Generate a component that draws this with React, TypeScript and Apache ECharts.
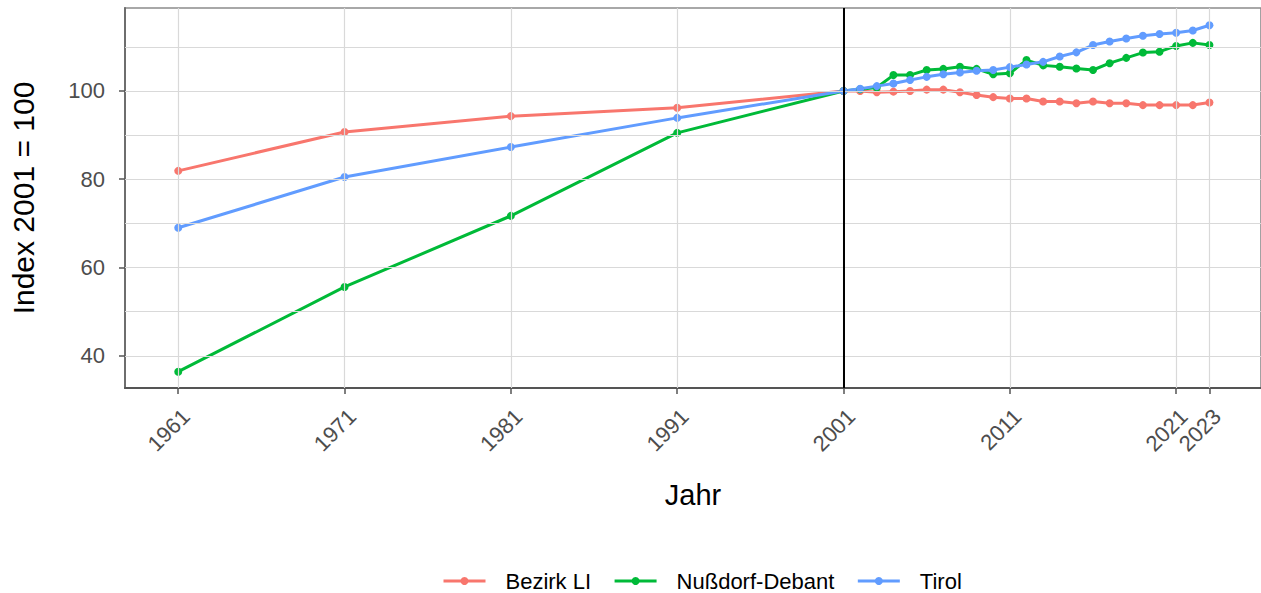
import React, { useEffect, useRef } from "react";
import * as echarts from "echarts";

const years = [1961, 1971, 1981, 1991, 2001, 2002, 2003, 2004, 2005, 2006, 2007, 2008, 2009, 2010, 2011, 2012, 2013, 2014, 2015, 2016, 2017, 2018, 2019, 2020, 2021, 2022, 2023];
const bezirkLI = [81.9, 90.7, 94.3, 96.2, 100, 100, 99.7, 99.85, 100, 100.3, 100.3, 99.7, 99.1, 98.6, 98.3, 98.3, 97.6, 97.6, 97.2, 97.6, 97.2, 97.2, 96.8, 96.8, 96.8, 96.8, 97.4];
const nussdorf = [36.4, 55.6, 71.7, 90.5, 100, 100.4, 100.8, 103.6, 103.6, 104.75, 105, 105.5, 105, 103.8, 104, 107, 105.8, 105.5, 105.1, 104.75, 106.3, 107.5, 108.7, 108.9, 110.2, 110.9, 110.4];
const tirol = [69.0, 80.5, 87.3, 93.9, 100, 100.5, 101.1, 101.7, 102.5, 103.2, 103.8, 104.2, 104.6, 104.75, 105.4, 106, 106.6, 107.8, 108.75, 110.4, 111.2, 111.9, 112.5, 112.9, 113.2, 113.7, 114.9];

const seriesNames = ["Bezirk LI", "Nußdorf-Debant", "Tirol"];
const seriesColors = ["#F8766D", "#00BA38", "#619CFF"];
const xTickYears = [1961, 1971, 1981, 1991, 2001, 2011, 2021, 2023];
const yTickValues = [40, 60, 80, 100];
const yGridValues = [40, 50, 60, 70, 80, 90, 100, 110];
const referenceYear = 2001;

const FONT = "'Liberation Sans', Arial, sans-serif";

export default function App() {
  const ref = useRef<HTMLDivElement>(null);
  useEffect(() => {
    if (!ref.current) return;
    const chart = echarts.init(ref.current, undefined, { renderer: "svg" });
    const values = [bezirkLI, nussdorf, tirol];
    const dataSeries = seriesNames.map((name, i) => ({
      name,
      type: "line",
      z: 3,
      data: years.map((y, j) => [y, values[i][j]]),
      symbol: "circle",
      symbolSize: 8,
      showSymbol: true,
      lineStyle: { color: seriesColors[i], width: 3 },
      itemStyle: { color: seriesColors[i] },
      emphasis: { disabled: true },
    }));
    const gridSeries = {
      name: "__grid",
      type: "line",
      z: 1,
      data: [],
      silent: true,
      markLine: {
        silent: true,
        symbol: ["none", "none"],
        label: { show: false },
        lineStyle: { color: "#d9d9d9", width: 1.2, type: "solid" },
        emphasis: { disabled: true },
        data: [
          ...yGridValues.map((v) => ({ yAxis: v })),
          ...xTickYears.map((v) => ({ xAxis: v })),
        ],
      },
    };
    const vlineSeries = {
      name: "__vline",
      type: "line",
      z: 2,
      data: [],
      silent: true,
      markLine: {
        silent: true,
        symbol: ["none", "none"],
        label: { show: false },
        lineStyle: { color: "#000000", width: 2, type: "solid" },
        emphasis: { disabled: true },
        data: [{ xAxis: referenceYear }],
      },
    };
    chart.setOption({
      animation: false,
      backgroundColor: "#ffffff",
      textStyle: { fontFamily: FONT },
      grid: {
        left: 123,
        top: 8,
        width: 1143,
        height: 380,
        show: true,
        borderColor: "#8c8c8c",
        borderWidth: 1.6,
        containLabel: false,
      },
      xAxis: {
        type: "value",
        min: 1957.8,
        max: 2026.1,
        name: "Jahr",
        nameLocation: "middle",
        nameGap: 92,
        nameTextStyle: { fontSize: 29, color: "#000000", fontFamily: FONT },
        axisLine: { show: true, onZero: false, lineStyle: { color: "#555555", width: 2 } },
        axisTick: { show: true, length: 6, customValues: xTickYears, lineStyle: { color: "#555555", width: 1.5 } },
        axisLabel: {
          customValues: xTickYears,
          rotate: 45,
          align: "right",
          verticalAlign: "top",
          margin: 17,
          fontSize: 22,
          color: "#4d4d4d",
          fontFamily: FONT,
          formatter: (v: number) => String(v),
        },
        splitLine: { show: false },
      },
      yAxis: {
        type: "value",
        min: 32.7,
        max: 118.8,
        name: "Index 2001 = 100",
        nameLocation: "middle",
        nameGap: 87,
        nameTextStyle: { fontSize: 30, color: "#000000", fontFamily: FONT },
        axisLine: { show: true, lineStyle: { color: "#6e6e6e", width: 2 } },
        axisTick: { show: true, length: 6, customValues: yTickValues, lineStyle: { color: "#555555", width: 1.5 } },
        axisLabel: {
          customValues: yTickValues,
          margin: 20,
          fontSize: 22,
          color: "#4d4d4d",
          fontFamily: FONT,
        },
        splitLine: { show: false },
      },
      legend: {
        data: seriesNames,
        left: 442,
        top: 570,
        padding: 0,
        orient: "horizontal",
        itemWidth: 42,
        itemHeight: 10,
        itemGap: 22,
        lineStyle: { width: 3 },
        textStyle: { fontSize: 22, color: "#000000", fontFamily: FONT, padding: [0, 0, 0, 15] },
        selectedMode: false,
      },
      series: [gridSeries, vlineSeries, ...dataSeries],
    });
    return () => chart.dispose();
  }, []);
  return (
    <div
      ref={ref}
      style={{ position: "fixed", left: 0, top: 0, width: 1261, height: 593 }}
    />
  );
}
